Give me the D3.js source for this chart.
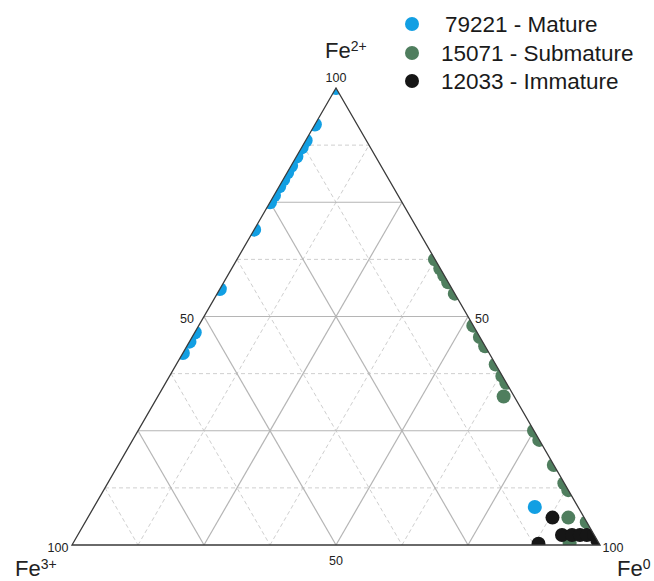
<!DOCTYPE html>
<html>
<head>
<meta charset="utf-8">
<script src="https://cdn.jsdelivr.net/npm/d3@7"></script>
<style>
  html, body { margin: 0; padding: 0; background: #fff; }
  svg { display: block; font-family: "Liberation Sans", Arial, sans-serif; }
</style>
</head>
<body>
<svg id="chart" width="654" height="581"></svg>
<script>
// ---- Data (percentages: Fe2+, Fe3+, Fe0) ----
const seriesNames = ["79221 - Mature", "15071 - Submature", "12033 - Immature"];
const seriesColors = ["#129fe3", "#4f7e5e", "#161616"];

// 79221 - Mature
const matureFe2 = [100, 92, 88.5, 87, 85, 83, 81.5, 80, 78.5, 76.5, 75, 69, 56, 46.5, 44.5, 42, 8.3];
const matureFe3 = [0, 8, 11.5, 13, 15, 17, 18.5, 20, 21.5, 23.5, 25, 31, 44, 53.5, 55.5, 58, 8.2];
const matureFe0 = [0, 0, 0, 0, 0, 0, 0, 0, 0, 0, 0, 0, 0, 0, 0, 0, 83.5];

// 15071 - Submature
const submatureFe2 = [62.5, 60.5, 59, 57.5, 55, 48, 45.5, 43.5, 39.5, 37, 35.5, 32.5, 25, 23, 17.5, 13.5, 12, 6, 5, 0.5];
const submatureFe3 = [0, 0, 0, 0, 0, 0, 0, 0, 0, 0, 0, 2, 0, 0, 0, 0, 0, 3, 0, 5.5];
const submatureFe0 = [37.5, 39.5, 41, 42.5, 45, 52, 54.5, 56.5, 60.5, 63, 64.5, 65.5, 75, 77, 82.5, 86.5, 88, 91, 95, 94];

// 12033 - Immature
const immatureFe2 = [6, 0.3, 2.2, 2.2, 2.2, 2.2, 2.2, 1];
const immatureFe3 = [6, 11.5, 6.1, 4.2, 2.7, 1.4, 0, 0];
const immatureFe0 = [88, 88.2, 91.7, 93.6, 95.1, 96.4, 97.8, 99];

const gridSolid = [25, 50, 75];
const gridDashed = [12.5, 37.5, 62.5, 87.5];
const axisTitles = [["Fe", "2+"], ["Fe", "3+"], ["Fe", "0"]];

// ---- Build series ----
function zip(a, b, c) { return a.map((v, i) => ({ fe2: v, fe3: b[i], fe0: c[i] })); }
const series = [
  zip(matureFe2, matureFe3, matureFe0),
  zip(submatureFe2, submatureFe3, submatureFe0),
  zip(immatureFe2, immatureFe3, immatureFe0)
];

// ---- Scales ----
const svg = d3.select("#chart");
const x = d3.scaleLinear().domain([0, 100]).range([72, 600]);
const y = d3.scaleLinear().domain([0, 100]).range([545, 88]);
// barycentric -> pixel
function px(fe2, fe0) { return [x(fe0 + fe2 / 2), y(fe2)]; }

const A = px(100, 0);   // Fe2+ apex
const L = px(0, 0);     // Fe3+ corner
const R = px(0, 100);   // Fe0 corner

// ---- Grid ----
const g = svg.append("g");
function gridLines(vals) {
  const lines = [];
  vals.forEach(v => {
    lines.push([px(v, 0), px(v, 100 - v)]);          // constant Fe2+
    lines.push([px(0, v), px(100 - v, v)]);          // constant Fe0
    lines.push([px(100 - v, 0), px(0, 100 - v)]);    // constant Fe3+
  });
  return lines;
}
g.selectAll("line.dashed").data(gridLines(gridDashed)).join("line")
  .attr("class", "dashed")
  .attr("x1", d => d[0][0]).attr("y1", d => d[0][1])
  .attr("x2", d => d[1][0]).attr("y2", d => d[1][1])
  .attr("stroke", "#cfcfcf").attr("stroke-width", 1)
  .attr("stroke-dasharray", "4,3");
g.selectAll("line.solid").data(gridLines(gridSolid)).join("line")
  .attr("class", "solid")
  .attr("x1", d => d[0][0]).attr("y1", d => d[0][1])
  .attr("x2", d => d[1][0]).attr("y2", d => d[1][1])
  .attr("stroke", "#b5b5b5").attr("stroke-width", 1.2);

// ---- Clip path & points ----
svg.append("clipPath").attr("id", "tri")
  .append("path").attr("d", `M${A}L${L}L${R}Z`);

const pts = svg.append("g").attr("clip-path", "url(#tri)");
series.forEach((s, i) => {
  pts.append("g").selectAll("circle").data(s).join("circle")
    .attr("cx", d => px(d.fe2, d.fe0)[0])
    .attr("cy", d => px(d.fe2, d.fe0)[1])
    .attr("r", 7)
    .attr("fill", seriesColors[i]);
});

// ---- Triangle border ----
svg.append("path").attr("d", `M${A}L${L}L${R}Z`)
  .attr("fill", "none").attr("stroke", "#3a3a3a").attr("stroke-width", 1.3)
  .attr("stroke-linejoin", "miter");

// ---- Tick labels ----
const tickStyle = sel => sel.attr("font-size", 12.5).attr("fill", "#222");
tickStyle(svg.append("text").attr("x", A[0]).attr("y", A[1] - 6).attr("text-anchor", "middle").text("100"));
tickStyle(svg.append("text").attr("x", 58).attr("y", 552).attr("text-anchor", "middle").text("100"));
tickStyle(svg.append("text").attr("x", 613).attr("y", 552).attr("text-anchor", "middle").text("100"));
const mL = px(50, 0), mR = px(50, 50), mB = px(0, 50);
tickStyle(svg.append("text").attr("x", mL[0] - 10).attr("y", mL[1] + 6).attr("text-anchor", "end").text("50"));
tickStyle(svg.append("text").attr("x", mR[0] + 7).attr("y", mR[1] + 6).attr("text-anchor", "start").text("50"));
tickStyle(svg.append("text").attr("x", mB[0]).attr("y", 565).attr("text-anchor", "middle").text("50"));

// ---- Axis titles ----
const titlePos = [[325, 58], [15, 576], [617, 576]];
axisTitles.forEach((t, i) => {
  const tx = svg.append("text").attr("x", titlePos[i][0]).attr("y", titlePos[i][1])
    .attr("font-size", 22).attr("fill", "#222");
  tx.append("tspan").text(t[0]);
  tx.append("tspan").attr("font-size", 14).attr("dy", -7).text(t[1]);
});

// ---- Legend ----
const legendY = [24, 53, 81];
const leg = svg.append("g");
seriesNames.forEach((name, i) => {
  leg.append("circle").attr("cx", 412).attr("cy", legendY[i]).attr("r", 7).attr("fill", seriesColors[i]);
  leg.append("text").attr("x", i === 0 ? 445 : 441).attr("y", legendY[i] + 8)
    .attr("font-size", 22.5).attr("fill", "#1a1a1a").text(name);
});
</script>
</body>
</html>
